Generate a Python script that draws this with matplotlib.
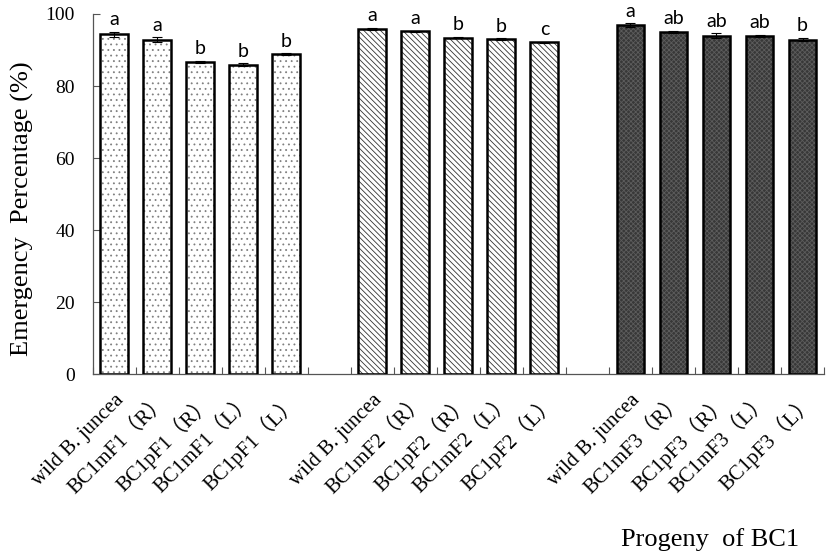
import matplotlib
matplotlib.use("Agg")
import matplotlib.pyplot as plt
import numpy as np

# data
labels_f1 = ["wild B. juncea", "BC1mF1（R）", "BC1pF1（R）", "BC1mF1（L）", "BC1pF1（L）"]
labels_f2 = ["wild B. juncea", "BC1mF2（R）", "BC1pF2（R）", "BC1mF2（L）", "BC1pF2（L）"]
labels_f3 = ["wild B. juncea", "BC1mF3（R）", "BC1pF3（R）", "BC1mF3（L）", "BC1pF3（L）"]

values_f1 = [94.4, 92.8, 86.7, 85.9, 88.8]
values_f2 = [95.9, 95.2, 93.4, 93.1, 92.1]
values_f3 = [96.9, 95.0, 94.0, 94.0, 92.9]

errors_f1 = [0.7, 0.7, 0.3, 0.4, 0.3]
errors_f2 = [0.3, 0.2, 0.2, 0.2, 0.2]
errors_f3 = [0.5, 0.3, 0.6, 0.3, 0.5]

letters_f1 = ["a", "a", "b", "b", "b"]
letters_f2 = ["a", "a", "b", "b", "c"]
letters_f3 = ["a", "ab", "ab", "ab", "b"]

serif = ["Liberation Serif", "Noto Sans CJK SC", "DejaVu Serif"]

plt.rcParams["hatch.linewidth"] = 0.6

fig = plt.figure(figsize=(8.29, 5.6), dpi=100)
ax = fig.add_axes([0.112, 0.332, 0.882, 0.643])

groups = [
    (labels_f1, values_f1, errors_f1, letters_f1, 0, "white", "#808080", "..."),
    (labels_f2, values_f2, errors_f2, letters_f2, 6, "white", "#333333", "\\\\\\\\\\\\"),
    (labels_f3, values_f3, errors_f3, letters_f3, 12, "#383838", "#5c5c5c", "xxxxxxx"),
]

width = 0.65
centers = []
all_labels = []
for labels, vals, errs, lets, start, fc, hc, hatch in groups:
    x = np.arange(len(vals)) + start
    centers.extend(x)
    all_labels.extend(labels)
    # hatch layer, then outline on top
    ax.bar(x, vals, width, color=fc, edgecolor=hc, hatch=hatch, linewidth=0, zorder=2)
    ax.bar(x, vals, width, fill=False, edgecolor="black", linewidth=1.8, zorder=3)
    ax.errorbar(x, vals, yerr=errs, fmt="none", ecolor="black",
                elinewidth=0.8, capsize=3.5, capthick=0.8, zorder=4)
    for xi, v, e, t in zip(x, vals, errs, lets):
        ax.text(xi, v + e + 1.0, t, ha="center", va="bottom",
                fontsize=14, family=["Lato", "DejaVu Sans"])

ax.set_xlim(-0.5, 16.5)
ax.set_ylim(0, 100)

ax.set_xticks(centers)
ax.set_xticklabels(all_labels, rotation=45, ha="right", rotation_mode="anchor",
                   family=serif, fontsize=15)
ax.tick_params(axis="x", which="major", length=0, pad=12)
ax.set_xticks(np.arange(-0.5, 17, 1.0), minor=True)
ax.tick_params(axis="x", which="minor", direction="in", length=5, width=0.8, color="#555555")

ax.set_yticks([0, 20, 40, 60, 80, 100])
ax.tick_params(axis="y", direction="in", length=5, width=0.8, color="#555555",
               pad=13, labelsize=14)
for lab in ax.get_yticklabels():
    lab.set_family(serif)

for side in ["top", "right"]:
    ax.spines[side].set_visible(False)
for side in ["left", "bottom"]:
    ax.spines[side].set_linewidth(0.9)
    ax.spines[side].set_color("#555555")

ax.set_ylabel("Emergency  Percentage (%)", family=serif, fontsize=19)
ax.yaxis.set_label_coords(-0.08, 0.46)

fig.text(710 / 829, 1 - 540 / 560, "Progeny  of BC1", ha="center", va="center",
         family=serif, fontsize=19)

fig.savefig("out.png", dpi=100)
